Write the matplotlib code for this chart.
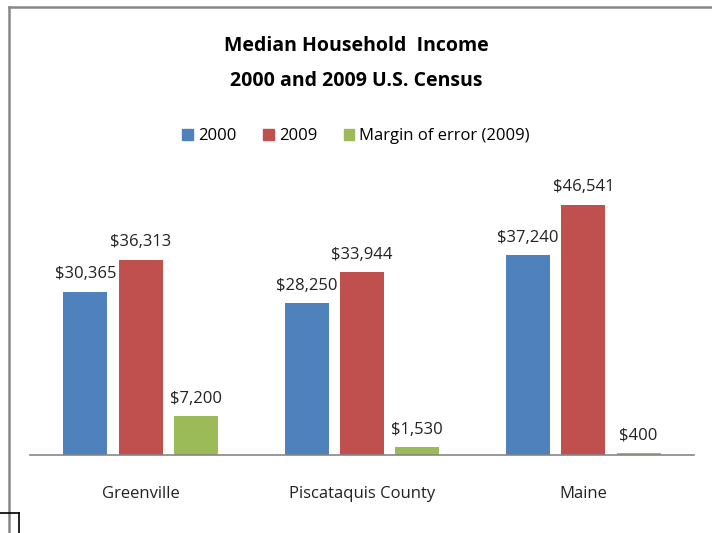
import numpy as np
import matplotlib.pyplot as plt
from matplotlib.lines import Line2D

places = ["Greenville", "Piscataquis County", "Maine"]
income_2000 = [30365, 28250, 37240]
income_2009 = [36313, 33944, 46541]
margin_2009 = [7200, 1530, 400]
series_names = ["2000", "2009", "Margin of error (2009)"]
colors = ["#4F81BD", "#C0504D", "#9BBB59"]

W, H = 712, 533
plt.rcParams["font.family"] = ["Open Sans", "DejaVu Sans"]

fig = plt.figure(figsize=(W / 100, H / 100), dpi=100)
ax = fig.add_axes([30 / W, (H - 455) / H, 664 / W, 269 / H])

x = np.arange(len(places))
width = 0.2
offsets = [-0.25, 0, 0.25]
for vals, off, col, name in zip([income_2000, income_2009, margin_2009], offsets, colors, series_names):
    bars = ax.bar(x + off, vals, width, color=col, label=name)
    for b, v in zip(bars, vals):
        ax.text(b.get_x() + b.get_width() / 2, v + 1700, f"${v:,}",
                ha="center", va="bottom", fontsize=12, color="#222222")

ax.set_xlim(-0.5, 2.5)
ax.set_ylim(0, 50000)
for s in ["top", "right", "left"]:
    ax.spines[s].set_visible(False)
ax.spines["bottom"].set_color("#868686")
ax.spines["bottom"].set_linewidth(1.2)
ax.set_yticks([])
ax.set_xticks(x)
ax.set_xticklabels(places, fontsize=12, color="#222222")
ax.tick_params(axis="x", length=0, pad=22)

fig.text(0.5, (H - 46) / H, "Median Household  Income", ha="center", va="center",
         fontsize=14, fontweight="bold")
fig.text(0.5, (H - 81) / H, "2000 and 2009 U.S. Census", ha="center", va="center",
         fontsize=14, fontweight="bold")

handles = [plt.Rectangle((0, 0), 1, 1, color=c) for c in colors]
fig.legend(handles, series_names, loc="center", bbox_to_anchor=(0.5, (H - 136) / H),
           ncol=3, frameon=False, fontsize=12, handlelength=0.65, handleheight=0.65,
           handletextpad=0.3, columnspacing=1.6)

# chart frame and corner mark
fig.add_artist(Line2D([9 / W, 9 / W], [0, (H - 7) / H], color="#888888", lw=1.8))
fig.add_artist(Line2D([9 / W, 1], [(H - 7) / H, (H - 7) / H], color="#888888", lw=1.8))
fig.add_artist(Line2D([0, 19 / W], [(H - 513) / H, (H - 513) / H], color="black", lw=1.2))
fig.add_artist(Line2D([19 / W, 19 / W], [0, (H - 513) / H], color="black", lw=1.2))

fig.savefig("out.png", dpi=100)
